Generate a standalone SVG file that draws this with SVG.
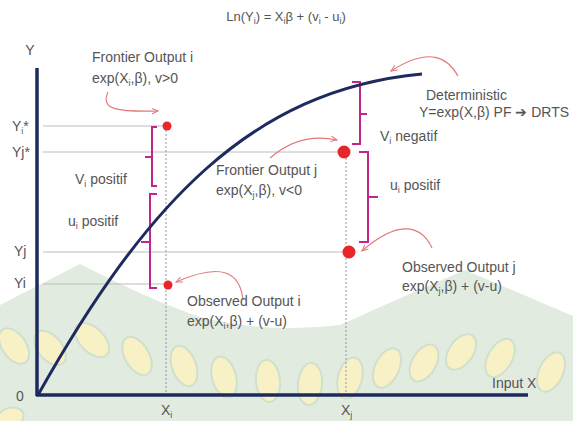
<svg xmlns="http://www.w3.org/2000/svg" width="573" height="421" viewBox="0 0 573 421">
<style>
text{font-family:"Liberation Sans",Arial,sans-serif;fill:#555;font-size:14px}
.sub{font-size:9px}
.title{font-size:13px}
.axis{stroke:#1c2b5c;stroke-width:3.5;fill:none}
.curve{stroke:#1f2a5e;stroke-width:3;fill:none}
.grid{stroke:#bdbdbd;stroke-width:1;fill:none}
.drop{stroke:#8a97a8;stroke-width:1;stroke-dasharray:2 2;fill:none}
.brace{stroke:#c0268e;stroke-width:2;fill:none}
.arr{stroke:#e07a7a;stroke-width:1.1;fill:none;marker-end:url(#ah)}
.dot{fill:#e8262a}
.leaf{fill:#f9f1c6;stroke:#d0e0cc;stroke-width:2}
</style>
<defs>
<marker id="ah" viewBox="0 0 10 10" refX="9" refY="5" markerWidth="7" markerHeight="7" orient="auto" markerUnits="userSpaceOnUse">
<path d="M0,1 L9,5 L0,9" fill="none" stroke="#e07a7a" stroke-width="1.5"/>
</marker>
</defs>
<rect width="573" height="421" fill="#fff"/>
<g id="watermark">
<path d="M0,305 L80,264 Q150,300 200,317 Q270,334 340,325 Q400,298 465,270 L573,316 L573,421 L0,421 Z" fill="#e1ebe0"/>
<ellipse class="leaf" cx="14" cy="346" rx="12" ry="20" transform="rotate(-35 14 346)"/>
<ellipse class="leaf" cx="50" cy="348" rx="12" ry="20" transform="rotate(-40 50 348)"/>
<ellipse class="leaf" cx="92" cy="340" rx="12" ry="21" transform="rotate(-45 92 340)"/>
<ellipse class="leaf" cx="137" cy="356" rx="12" ry="21" transform="rotate(-30 137 356)"/>
<ellipse class="leaf" cx="184" cy="366" rx="12" ry="21" transform="rotate(-20 184 366)"/>
<ellipse class="leaf" cx="224" cy="377" rx="12" ry="21" transform="rotate(-15 224 377)"/>
<ellipse class="leaf" cx="268" cy="381" rx="12" ry="21" transform="rotate(-5 268 381)"/>
<ellipse class="leaf" cx="310" cy="384" rx="12" ry="21" transform="rotate(5 310 384)"/>
<ellipse class="leaf" cx="350" cy="378" rx="12" ry="21" transform="rotate(15 350 378)"/>
<ellipse class="leaf" cx="387" cy="368" rx="12" ry="21" transform="rotate(25 387 368)"/>
<ellipse class="leaf" cx="424" cy="363" rx="12" ry="20" transform="rotate(30 424 363)"/>
<ellipse class="leaf" cx="461" cy="352" rx="12" ry="20" transform="rotate(35 461 352)"/>
<ellipse class="leaf" cx="500" cy="358" rx="12" ry="21" transform="rotate(30 500 358)"/>
<ellipse class="leaf" cx="551" cy="372" rx="12" ry="21" transform="rotate(25 551 372)"/>
<ellipse class="leaf" cx="10" cy="418" rx="14" ry="10" transform="rotate(-20 10 418)"/>
</g>
<g id="title"><text class="title" x="286" y="21" text-anchor="middle">Ln(Y<tspan class="sub" dy="3">i</tspan><tspan dy="-3">) = X</tspan><tspan class="sub" dy="3">i</tspan><tspan dy="-3">β + (v</tspan><tspan class="sub" dy="3">i</tspan><tspan dy="-3"> - u</tspan><tspan class="sub" dy="3">i</tspan><tspan dy="-3">)</tspan></text></g>
<g id="connectors">
<line class="grid" x1="43" y1="126" x2="163" y2="126"/>
<line class="grid" x1="43" y1="152" x2="338" y2="152"/>
<line class="grid" x1="43" y1="252" x2="343" y2="252"/>
<line class="grid" x1="43" y1="284" x2="164" y2="284"/>
<line class="drop" x1="166" y1="130" x2="166" y2="394"/>
<line class="drop" x1="346" y1="158" x2="346" y2="394"/>
<path class="brace" d="M157,127 L152,127 L152,186 L157,186 M152,157 L145,157"/>
<path class="brace" d="M157,194 L150,194 L150,288 L157,288 M150,242 L141,242"/>
<path class="brace" d="M352,82 L360,82 L360,144 L352,144 M360,114 L367,114"/>
<path class="brace" d="M359,152 L368,152 L368,242 L359,242 M368,197 L378,197"/>
<path class="arr" d="M108,92 C100,110 118,112 158,111"/>
<path class="arr" d="M270,158 Q300,132 337,140"/>
<path class="arr" d="M458,76 C448,58 430,46 391,71"/>
<path class="arr" d="M432,248 C420,222 395,222 362,251"/>
<path class="arr" d="M243,300 C240,272 222,262 176,282"/>
</g>
<g id="axes">
<line class="axis" x1="37" y1="68" x2="37" y2="396"/>
<line class="axis" x1="36" y1="395" x2="528" y2="395"/>
<text x="30" y="55" text-anchor="middle">Y</text>
<text x="492" y="388">Input X</text>
<text x="16" y="401">0</text>
<text x="161" y="415">X<tspan class="sub" dy="3">i</tspan></text>
<text x="341" y="415">X<tspan class="sub" dy="3">j</tspan></text>
<text x="12" y="131">Y<tspan class="sub" dy="3">i</tspan><tspan dy="-3">*</tspan></text>
<text x="12" y="157">Yj*</text>
<text x="14" y="256">Yj</text>
<text x="14" y="288">Yi</text>
</g>
<g id="frontier-curve">
<path class="curve" d="M38,395 C145,205 250,90 422,74"/>
<text x="426" y="100">Deterministic</text>
<text x="419" y="117">Y=exp(X,β) PF ➔ DRTS</text>
</g>
<g id="frontier-i">
<circle class="dot" cx="167" cy="126" r="4.5"/>
<text x="92" y="62">Frontier Output i</text>
<text x="92" y="83">exp(X<tspan class="sub" dy="3">i</tspan><tspan dy="-3">,β), v&gt;0</tspan></text>
</g>
<g id="frontier-j">
<circle class="dot" cx="344" cy="152" r="6.5"/>
<text x="216" y="175">Frontier Output j</text>
<text x="216" y="195">exp(X<tspan class="sub" dy="3">j</tspan><tspan dy="-3">,β), v&lt;0</tspan></text>
</g>
<g id="observed-i">
<circle class="dot" cx="168" cy="285" r="4.5"/>
<text x="187" y="306">Observed Output i</text>
<text x="187" y="326">exp(X<tspan class="sub" dy="3">i</tspan><tspan dy="-3">,β) + (v-u)</tspan></text>
</g>
<g id="observed-j">
<circle class="dot" cx="349" cy="252" r="6.5"/>
<text x="402" y="272">Observed Output j</text>
<text x="402" y="291">exp(X<tspan class="sub" dy="3">j</tspan><tspan dy="-3">,β) + (v-u)</tspan></text>
</g>
<g id="labels">
<text x="75" y="184">V<tspan class="sub" dy="3">i</tspan><tspan dy="-3"> positif</tspan></text>
<text x="68" y="226">u<tspan class="sub" dy="3">i</tspan><tspan dy="-3"> positif</tspan></text>
<text x="380" y="141">V<tspan class="sub" dy="3">i</tspan><tspan dy="-3"> negatif</tspan></text>
<text x="390" y="190">u<tspan class="sub" dy="3">i</tspan><tspan dy="-3"> positif</tspan></text>
</g>
</svg>
